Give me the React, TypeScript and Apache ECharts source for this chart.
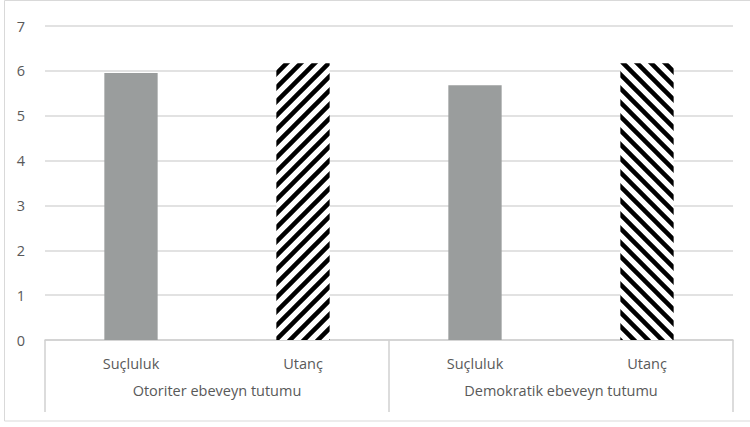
import React, { useEffect, useRef } from "react";
import * as echarts from "echarts";

const subCategories = ["Suçluluk", "Utanç", "Suçluluk", "Utanç"];
const groupCategories = ["Otoriter ebeveyn tutumu", "Demokratik ebeveyn tutumu"];
const values = [5.95, 6.17, 5.68, 6.17];
const barKinds = ["solid", "hatchUp", "solid", "hatchDown"];
const yTicks = [0, 1, 2, 3, 4, 5, 6, 7];

function makeHatch(up: boolean): string {
  const s = 14;
  const c = document.createElement("canvas");
  c.width = s;
  c.height = s;
  const ctx = c.getContext("2d")!;
  ctx.fillStyle = "#ffffff";
  ctx.fillRect(0, 0, s, s);
  ctx.strokeStyle = "#000000";
  ctx.lineWidth = 4.5;
  ctx.beginPath();
  for (let k = -1; k <= 1; k++) {
    if (up) {
      ctx.moveTo(-s + k * s, s + s);
      ctx.lineTo(s + s + k * s, -s);
    } else {
      ctx.moveTo(-s + k * s, -s);
      ctx.lineTo(s + s + k * s, s + s);
    }
  }
  ctx.stroke();
  return c.toDataURL();
}

export default function App() {
  const ref = useRef<HTMLDivElement>(null);
  useEffect(() => {
    document.body.style.margin = "0";
    const chart = echarts.init(ref.current!, undefined, { renderer: "svg" });
    const up = makeHatch(true);
    const down = makeHatch(false);
    const font = "'Open Sans', 'Noto Sans', sans-serif";
    const fs = 14.5;
    const data = values.map((v, i) => {
      const k = barKinds[i];
      let color: any = "#9a9d9d";
      if (k === "hatchUp") color = { image: up, repeat: "repeat" };
      if (k === "hatchDown") color = { image: down, repeat: "repeat" };
      return { value: v, itemStyle: { color } };
    });
    chart.setOption({
      animation: false,
      backgroundColor: "#ffffff",
      graphic: [
        {
          type: "rect",
          shape: { x: 4.5, y: 0.5, width: 760, height: 420.5 },
          style: { fill: "none", stroke: "#d9d9d9", lineWidth: 1 },
          silent: true,
        },
      ],
      grid: { left: 45, right: 17, top: 26, bottom: 87, containLabel: false },
      xAxis: [
        {
          type: "category",
          data: subCategories,
          position: "bottom",
          axisLine: { show: true, lineStyle: { color: "#d0d0d0", width: 1.5 } },
          axisTick: { show: false },
          axisLabel: { color: "#595959", fontSize: fs, fontFamily: font, margin: 16 },
        },
        {
          type: "category",
          data: groupCategories,
          position: "bottom",
          axisLine: { show: false },
          axisTick: { show: true, length: 72, inside: false, lineStyle: { color: "#d0d0d0", width: 1.5 } },
          axisLabel: { color: "#595959", fontSize: fs, fontFamily: font, margin: 43 },
          splitLine: { show: false },
        },
      ],
      yAxis: {
        type: "value",
        min: yTicks[0],
        max: yTicks[yTicks.length - 1],
        interval: 1,
        axisLine: { show: false },
        axisTick: { show: false },
        axisLabel: { color: "#595959", fontSize: fs, fontFamily: font, margin: 20 },
        splitLine: { lineStyle: { color: "#d9d9d9", width: 1.5 } },
      },
      series: [
        {
          type: "bar",
          xAxisIndex: 0,
          data,
          barWidth: "31%",
        },
      ],
    });
    return () => chart.dispose();
  }, []);
  return <div ref={ref} style={{ width: 750, height: 427 }} />;
}
